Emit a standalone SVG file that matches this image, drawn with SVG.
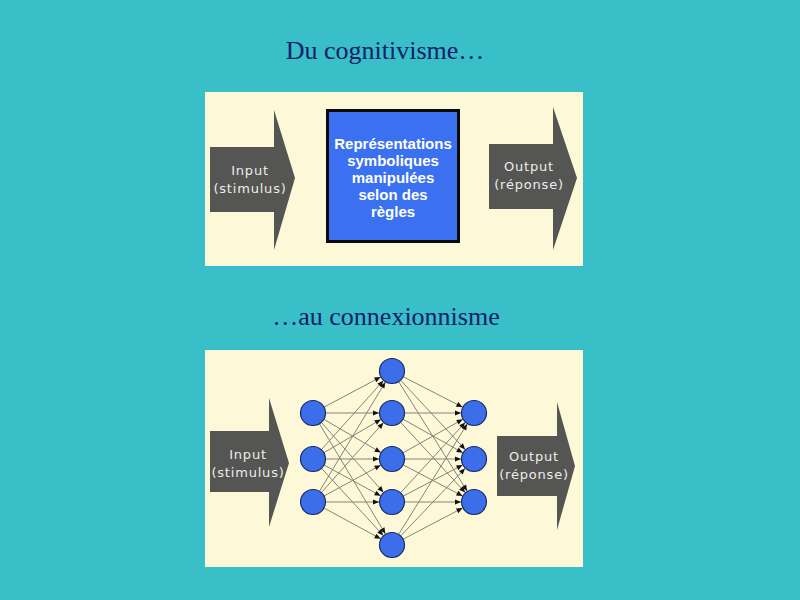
<svg xmlns="http://www.w3.org/2000/svg" width="800" height="600" viewBox="0 0 800 600">
<defs>
<style>
.title{font-family:"Liberation Serif",serif;font-size:26px;fill:#12206a;text-anchor:middle}
.panel{fill:#fcf8d8}
.arrow{fill:#555553}
.atext{font-family:"DejaVu Sans","Liberation Sans",sans-serif;font-size:13px;letter-spacing:0.8px;fill:#ececec;text-anchor:middle}
.btext{font-family:"Liberation Sans",sans-serif;font-size:15px;font-weight:bold;fill:#ffffff;text-anchor:middle}
.node{fill:#3b6ee8;stroke:#1a2a6a;stroke-width:1.2}
.edge{stroke:#85857a;stroke-width:1;marker-end:url(#ah)}
</style>
<marker id="ah" markerUnits="userSpaceOnUse" markerWidth="10" markerHeight="10" refX="13" refY="0" orient="auto" overflow="visible">
<path d="M0,0 L-6,-2.6 L-6,2.6 Z" fill="#111"/>
</marker>
</defs>
<rect width="800" height="600" fill="#38bfc8"/>
<text class="title" x="385" y="59">Du cognitivisme…</text>
<text class="title" x="386" y="325">…au connexionnisme</text>

<g id="panel-top">
<rect class="panel" x="205" y="92" width="378" height="174"/>
</g>
<g id="input-top">
<polygon class="arrow" points="210,147 274,147 274,110 295,178 274,250 274,212 210,212"/>
<text class="atext" x="250" y="175">Input</text>
<text class="atext" x="250" y="193">(stimulus)</text>
</g>
<g id="symbolic-box">
<rect x="327.5" y="110.5" width="131" height="131" fill="#3b70f0" stroke="#0a0a0a" stroke-width="3"/>
<text class="btext" x="393" y="149">Représentations</text>
<text class="btext" x="393" y="166">symboliques</text>
<text class="btext" x="393" y="183">manipulées</text>
<text class="btext" x="393" y="200">selon des</text>
<text class="btext" x="393" y="217">règles</text>
</g>
<g id="output-top">
<polygon class="arrow" points="489,144 553,144 553,107 577,178 553,250 553,209 489,209"/>
<text class="atext" x="529" y="171">Output</text>
<text class="atext" x="529" y="189">(réponse)</text>
</g>

<g id="panel-bottom">
<rect class="panel" x="205" y="350" width="378" height="217"/>
</g>
<g id="input-bottom">
<polygon class="arrow" points="210,431 269,431 269,398 289,463 269,527 269,492 210,492"/>
<text class="atext" x="248" y="459">Input</text>
<text class="atext" x="248" y="477">(stimulus)</text>
</g>
<g id="output-bottom">
<polygon class="arrow" points="497,436 557,436 557,402 575,466 557,530 557,496 497,496"/>
<text class="atext" x="534" y="461">Output</text>
<text class="atext" x="534" y="479">(réponse)</text>
</g>

<g id="connectors">
<line class="edge" x1="313" y1="413" x2="392" y2="371"/>
<line class="edge" x1="313" y1="413" x2="392" y2="413"/>
<line class="edge" x1="313" y1="413" x2="392" y2="459"/>
<line class="edge" x1="313" y1="413" x2="392" y2="502"/>
<line class="edge" x1="313" y1="413" x2="392" y2="545"/>
<line class="edge" x1="313" y1="459" x2="392" y2="371"/>
<line class="edge" x1="313" y1="459" x2="392" y2="413"/>
<line class="edge" x1="313" y1="459" x2="392" y2="459"/>
<line class="edge" x1="313" y1="459" x2="392" y2="502"/>
<line class="edge" x1="313" y1="459" x2="392" y2="545"/>
<line class="edge" x1="313" y1="502" x2="392" y2="371"/>
<line class="edge" x1="313" y1="502" x2="392" y2="413"/>
<line class="edge" x1="313" y1="502" x2="392" y2="459"/>
<line class="edge" x1="313" y1="502" x2="392" y2="502"/>
<line class="edge" x1="313" y1="502" x2="392" y2="545"/>
<line class="edge" x1="392" y1="371" x2="474" y2="413"/>
<line class="edge" x1="392" y1="371" x2="474" y2="459"/>
<line class="edge" x1="392" y1="371" x2="474" y2="502"/>
<line class="edge" x1="392" y1="413" x2="474" y2="413"/>
<line class="edge" x1="392" y1="413" x2="474" y2="459"/>
<line class="edge" x1="392" y1="413" x2="474" y2="502"/>
<line class="edge" x1="392" y1="459" x2="474" y2="413"/>
<line class="edge" x1="392" y1="459" x2="474" y2="459"/>
<line class="edge" x1="392" y1="459" x2="474" y2="502"/>
<line class="edge" x1="392" y1="502" x2="474" y2="413"/>
<line class="edge" x1="392" y1="502" x2="474" y2="459"/>
<line class="edge" x1="392" y1="502" x2="474" y2="502"/>
<line class="edge" x1="392" y1="545" x2="474" y2="413"/>
<line class="edge" x1="392" y1="545" x2="474" y2="459"/>
<line class="edge" x1="392" y1="545" x2="474" y2="502"/>
</g>

<g id="in1"><circle class="node" cx="313" cy="413" r="12.5"/></g>
<g id="in2"><circle class="node" cx="313" cy="459" r="12.5"/></g>
<g id="in3"><circle class="node" cx="313" cy="502" r="12.5"/></g>
<g id="h1"><circle class="node" cx="392" cy="371" r="12.5"/></g>
<g id="h2"><circle class="node" cx="392" cy="413" r="12.5"/></g>
<g id="h3"><circle class="node" cx="392" cy="459" r="12.5"/></g>
<g id="h4"><circle class="node" cx="392" cy="502" r="12.5"/></g>
<g id="h5"><circle class="node" cx="392" cy="545" r="12.5"/></g>
<g id="out1"><circle class="node" cx="474" cy="413" r="12.5"/></g>
<g id="out2"><circle class="node" cx="474" cy="459" r="12.5"/></g>
<g id="out3"><circle class="node" cx="474" cy="502" r="12.5"/></g>
</svg>
